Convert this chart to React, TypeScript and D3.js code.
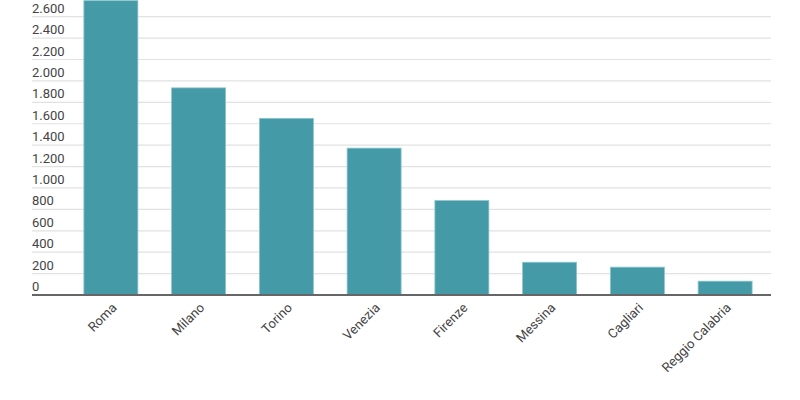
import React, { useEffect, useRef } from 'react';
import * as d3 from 'd3';

const cities = ['Roma', 'Milano', 'Torino', 'Venezia', 'Firenze', 'Messina', 'Cagliari', 'Reggio Calabria'];
const values = [2750, 1935, 1650, 1372, 882, 306, 260, 129];
const yTicks = [0, 200, 400, 600, 800, 1000, 1200, 1400, 1600, 1800, 2000, 2200, 2400, 2600];

const W = 800;
const H = 400;

export default function App() {
  const ref = useRef<SVGSVGElement>(null);

  useEffect(() => {
    if (!ref.current) return;
    const svg = d3.select(ref.current);
    svg.selectAll('*').remove();

    const it = d3.formatLocale({ decimal: ',', thousands: '.', grouping: [3], currency: ['€', ''] });
    const fmt = it.format(',d');

    const gridLeft = 32;
    const gridRight = 771;

    const x = d3.scaleBand<string>()
      .domain(cities)
      .range([67, 769])
      .paddingInner(0.385)
      .paddingOuter(0.1925);

    const y = d3.scaleLinear().domain([0, 2600]).range([295, 16.7]);

    // grid + tick labels
    const grid = svg.append('g');
    yTicks.forEach((t) => {
      if (t > 0) {
        grid.append('line')
          .attr('x1', gridLeft).attr('x2', gridRight)
          .attr('y1', y(t)).attr('y2', y(t))
          .attr('stroke', '#e2e2e2').attr('stroke-width', 1.2);
      }
      grid.append('text')
        .attr('x', gridLeft)
        .attr('y', y(t) - 4)
        .attr('fill', '#444')
        .style('font-family', 'Roboto, sans-serif')
        .style('font-size', '13px')
        .text(fmt(t));
    });

    // bars
    svg.append('g')
      .selectAll('rect')
      .data(cities)
      .enter()
      .append('rect')
      .attr('x', (d) => x(d)!)
      .attr('width', x.bandwidth())
      .attr('y', (d, i) => y(values[i]))
      .attr('height', (d, i) => y(0) - y(values[i]))
      .attr('fill', '#449aa7')
      .attr('stroke', '#8cc3cb')
      .attr('stroke-width', 0.8);

    // baseline
    svg.append('line')
      .attr('x1', gridLeft).attr('x2', gridRight)
      .attr('y1', y(0)).attr('y2', y(0))
      .attr('stroke', '#666').attr('stroke-width', 2);

    // x labels
    svg.append('g')
      .selectAll('text')
      .data(cities)
      .enter()
      .append('text')
      .attr('transform', (d) => `translate(${x(d)! + x.bandwidth() / 2},302) rotate(-45)`)
      .attr('text-anchor', 'end')
      .attr('dy', '0.71em')
      .attr('fill', '#444')
      .style('font-family', 'Roboto, sans-serif')
      .style('font-size', '13px')
      .text((d) => d);
  }, []);

  return (
    <svg
      ref={ref}
      width={W}
      height={H}
      style={{ position: 'absolute', left: 0, top: 0, background: '#fff' }}
    />
  );
}
